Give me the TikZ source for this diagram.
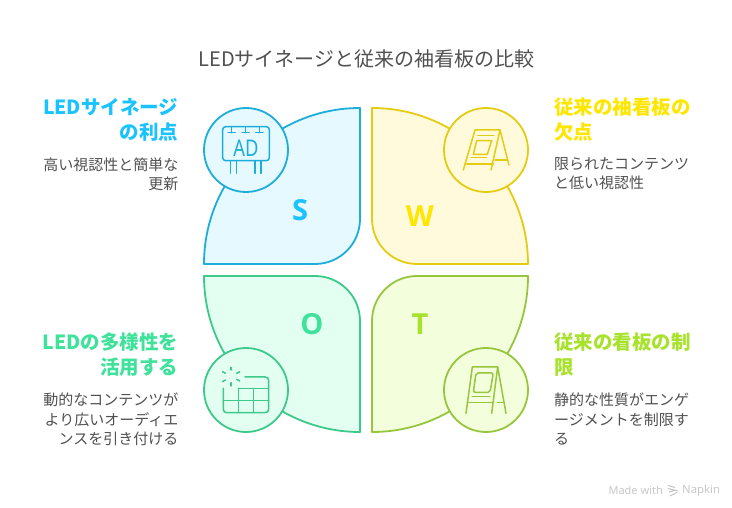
\documentclass[tikz,border=0pt]{standalone}
\usepackage{fontspec}
\setmainfont{Noto Sans CJK JP}
\newfontfamily\latinfont{Noto Sans}
\newfontfamily\letterfont{Open Sans}
\definecolor{sLine}{HTML}{1CADDA}
\definecolor{sFill}{HTML}{E6F9FF}
\definecolor{sText}{HTML}{1AC3FF}
\definecolor{wLine}{HTML}{E3CC12}
\definecolor{wFill}{HTML}{FFFADC}
\definecolor{wText}{HTML}{FFE600}
\definecolor{oLine}{HTML}{3CC98A}
\definecolor{oFill}{HTML}{E3FFF1}
\definecolor{oText}{HTML}{3FE29A}
\definecolor{tLine}{HTML}{97C53C}
\definecolor{tFill}{HTML}{F3FFDC}
\definecolor{tText}{HTML}{A8E22E}
\definecolor{bodyText}{HTML}{505050}
\tikzset{
  petal/.style = {line width=1.8pt, line join=round},
  iconcircle/.style = {draw, circle, line width=1.8pt, minimum size=84pt, inner sep=0pt},
  iconline/.style = {line width=1.5pt, line cap=round, line join=round},
  letter/.style = {inner sep=0pt, font=\letterfont\fontsize{29}{29}\selectfont\bfseries},
  headleft/.style = {anchor=north east, align=right, inner sep=0pt, font=\fontsize{19.5}{25}\selectfont\bfseries},
  headright/.style = {anchor=north west, align=left, inner sep=0pt, font=\fontsize{19.5}{25}\selectfont\bfseries},
  bodyleft/.style = {anchor=north east, align=right, inner sep=0pt, text=bodyText, font=\fontsize{15}{19.3}\selectfont},
  bodyright/.style = {anchor=north west, align=left, inner sep=0pt, text=bodyText, font=\fontsize{15}{19.3}\selectfont}
}
\begin{document}
\begin{tikzpicture}[x=1pt, y=-1pt]
\useasboundingbox (0,0) rectangle (732,508);
\node (title) [inner sep=0pt, text=bodyText, font=\fontsize{20}{22}\selectfont] at (366.5,59) {LEDサイネージと従来の袖看板の比較};

\draw[petal, draw=sLine, fill=sFill] (204,264) .. controls (204,177.8) and (273.8,108) .. (360,108) -- (360,219) .. controls (360,243.9) and (339.9,264) .. (315,264) -- cycle;
\draw[petal, draw=wLine, fill=wFill] (528,264) .. controls (528,177.8) and (458.2,108) .. (372,108) -- (372,219) .. controls (372,243.9) and (392.1,264) .. (417,264) -- cycle;
\draw[petal, draw=oLine, fill=oFill] (204,276) .. controls (204,362.2) and (273.8,432) .. (360,432) -- (360,321) .. controls (360,296.1) and (339.9,276) .. (315,276) -- cycle;
\draw[petal, draw=tLine, fill=tFill] (528,276) .. controls (528,362.2) and (458.2,432) .. (372,432) -- (372,321) .. controls (372,296.1) and (392.1,276) .. (417,276) -- cycle;

\node (sCircle) [iconcircle, draw=sLine, fill=sFill] at (246,150) {};
\node (wCircle) [iconcircle, draw=wLine, fill=wFill] at (486,150) {};
\node (oCircle) [iconcircle, draw=oLine, fill=oFill] at (246,390) {};
\node (tCircle) [iconcircle, draw=tLine, fill=tFill] at (486,390) {};

\node (sLetter) [letter, text=sText] at (300,210.5) {S};
\node (wLetter) [letter, text=wText] at (420,216) {W};
\node (oLetter) [letter, text=oText] at (312,324.5) {O};
\node (tLetter) [letter, text=tText] at (420,324.5) {T};

\begin{scope}[shift={(190,95)}, scale=1/3, iconline, draw=sLine]
\draw[rounded corners=3pt] (98,95) rectangle (238,197);
\foreach \lx in {125,167,208} {
  \draw (\lx,95) -- (\lx,113);
  \draw (\lx-11,113) -- (\lx+11,113);
}
\foreach \lx in {122,140,195,213} {
  \draw (\lx,197) -- (\lx,235);
}
\end{scope}
\node (adText) [inner sep=0pt, xscale=0.8, text=sLine, font=\latinfont\fontsize{23}{23}\selectfont] at (246,148.7) {AD};

\begin{scope}[shift={(365,95)}, scale=1/3, iconline, draw=wLine]
\draw (295,225) -- (330,105) -- (405,105) -- (378,225);
\draw (405,105) -- (432,210);
\draw (305,207) -- (385,207);
\draw (390,195) -- (425,195);
\draw (335,137) -- (380,137) -- (367,178) -- (325,178) -- cycle;
\draw (338,122) -- (387,122);
\draw (318,188) -- (365,188);
\end{scope}

\begin{scope}[shift={(190,270)}, scale=1/3, iconline, draw=oLine]
\draw (165,321) -- (225,321) .. controls (232,321) and (236,325) .. (236,331) -- (236,418) .. controls (236,424) and (232,428) .. (225,428) -- (110,428) .. controls (104,428) and (100,424) .. (100,418) -- (100,355);
\draw (145,355) -- (236,355);
\draw (100,392) -- (236,392);
\draw (145,355) -- (145,428);
\draw (190,355) -- (190,428);
\draw (123,292) -- (123,300);
\draw (123,338) -- (123,348);
\draw (98,305) -- (106,310);
\draw (140,310) -- (149,305);
\draw (98,335) -- (106,330);
\draw (140,328) -- (149,333);
\end{scope}

\begin{scope}[shift={(365,270)}, scale=1/3, iconline, draw=tLine]
\draw (303,430) -- (322,291) -- (398,291) -- (380,430);
\draw (398,291) -- (423,430);
\draw (307,398) -- (385,398);
\draw (397,398) -- (417,398);
\draw[rounded corners=2pt] (333,309) -- (385,309) -- (375,367) -- (325,367) -- cycle;
\draw (322,380) -- (375,380);
\end{scope}

\node (sHead) [headleft, text=sText] at (178.5,98) {LEDサイネージ\\の利点};
\node (sBody) [bodyleft] at (178.5,157.5) {高い視認性と簡単な\\更新};
\node (wHead) [headright, text=wText] at (554,98) {従来の袖看板の\\欠点};
\node (wBody) [bodyright] at (554,157.5) {限られたコンテンツ\\と低い視認性};
\node (oHead) [headleft, text=oText] at (178.5,333) {LEDの多様性を\\活用する};
\node (oBody) [bodyleft] at (178.5,393) {動的なコンテンツが\\より広いオーディエ\\ンスを引き付ける};
\node (tHead) [headright, text=tText] at (554,333) {従来の看板の制\\限};
\node (tBody) [bodyright] at (554,393) {静的な性質がエンゲ\\ージメントを制限す\\る};

\node (madeWith) [anchor=east, inner sep=0pt, text=black!22, font=\latinfont\fontsize{11}{11}\selectfont] at (663,490.5) {Made with};
\draw[line width=1.1pt, black!22] (668,485.5) -- (675,487.5) (668,488.5) -- (678,491) (669,492) -- (676,490) (670,496) -- (677,492.5);
\node (napkin) [anchor=west, inner sep=0pt, text=black!22, font=\latinfont\fontsize{11.3}{11}\selectfont] at (682,490.5) {Napkin};
\end{tikzpicture}
\end{document}
